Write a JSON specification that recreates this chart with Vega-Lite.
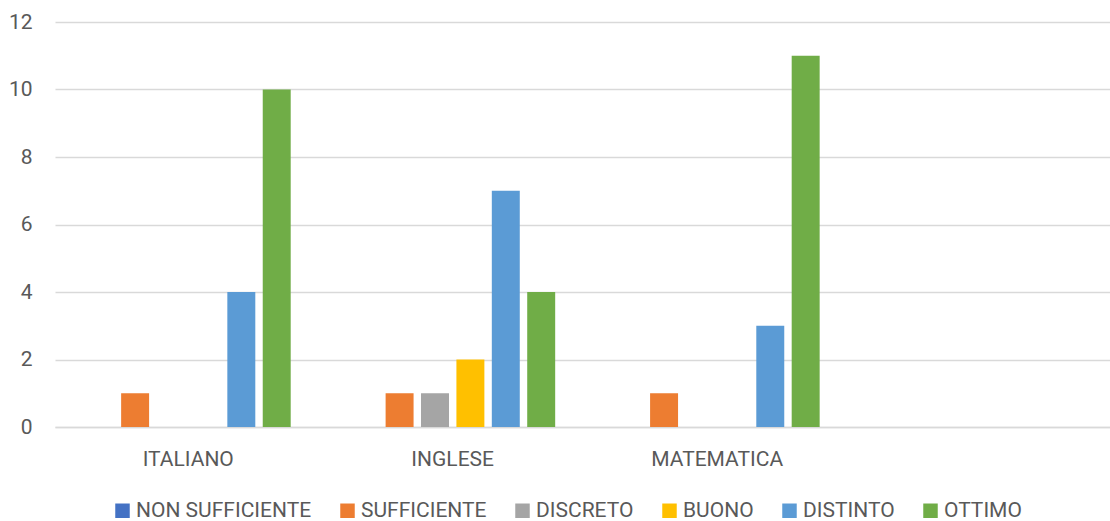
{
  "$schema": "https://vega.github.io/schema/vega-lite/v6.json",
  "autosize": "none",
  "width": 1055,
  "height": 405,
  "padding": {"left": 55, "top": 22, "right": 0, "bottom": 94},
  "background": "#ffffff",
  "config": {
    "view": {"stroke": null},
    "font": "Roboto"
  },
  "data": {
    "values": [
      {"materia": "ITALIANO", "giudizio": "NON SUFFICIENTE", "n": 0},
      {"materia": "ITALIANO", "giudizio": "SUFFICIENTE", "n": 1},
      {"materia": "ITALIANO", "giudizio": "DISCRETO", "n": 0},
      {"materia": "ITALIANO", "giudizio": "BUONO", "n": 0},
      {"materia": "ITALIANO", "giudizio": "DISTINTO", "n": 4},
      {"materia": "ITALIANO", "giudizio": "OTTIMO", "n": 10},
      {"materia": "INGLESE", "giudizio": "NON SUFFICIENTE", "n": 0},
      {"materia": "INGLESE", "giudizio": "SUFFICIENTE", "n": 1},
      {"materia": "INGLESE", "giudizio": "DISCRETO", "n": 1},
      {"materia": "INGLESE", "giudizio": "BUONO", "n": 2},
      {"materia": "INGLESE", "giudizio": "DISTINTO", "n": 7},
      {"materia": "INGLESE", "giudizio": "OTTIMO", "n": 4},
      {"materia": "MATEMATICA", "giudizio": "NON SUFFICIENTE", "n": 0},
      {"materia": "MATEMATICA", "giudizio": "SUFFICIENTE", "n": 1},
      {"materia": "MATEMATICA", "giudizio": "DISCRETO", "n": 0},
      {"materia": "MATEMATICA", "giudizio": "BUONO", "n": 0},
      {"materia": "MATEMATICA", "giudizio": "DISTINTO", "n": 3},
      {"materia": "MATEMATICA", "giudizio": "OTTIMO", "n": 11}
    ]
  },
  "mark": {"type": "bar"},
  "encoding": {
    "x": {
      "field": "materia",
      "type": "nominal",
      "sort": null,
      "scale": {
        "domain": ["ITALIANO", "INGLESE", "MATEMATICA", " "],
        "paddingInner": 0.225,
        "paddingOuter": 0.107,
        "align": 0.543
      },
      "axis": {
        "title": null,
        "labelAngle": 0,
        "labelFont": "Roboto",
        "labelFontSize": 21,
        "labelColor": "#595959",
        "labelPadding": 21,
        "ticks": false,
        "tickSize": 0,
        "domain": true,
        "domainColor": "#D9D9D9",
        "domainWidth": 1.5,
        "grid": false
      }
    },
    "xOffset": {
      "field": "giudizio",
      "type": "nominal",
      "scale": {
        "domain": ["NON SUFFICIENTE", "SUFFICIENTE", "DISCRETO", "BUONO", "DISTINTO", "OTTIMO"],
        "paddingInner": 0.21,
        "paddingOuter": 0
      }
    },
    "y": {
      "field": "n",
      "type": "quantitative",
      "scale": {"domain": [0, 12], "nice": false},
      "axis": {
        "title": null,
        "values": [0, 2, 4, 6, 8, 10, 12],
        "labelFont": "Roboto",
        "labelFontSize": 21,
        "labelColor": "#595959",
        "labelPadding": 23,
        "ticks": false,
        "tickSize": 0,
        "domain": false,
        "grid": true,
        "gridColor": "#D9D9D9",
        "gridWidth": 1.5
      }
    },
    "color": {
      "field": "giudizio",
      "type": "nominal",
      "scale": {
        "domain": ["NON SUFFICIENTE", "SUFFICIENTE", "DISCRETO", "BUONO", "DISTINTO", "OTTIMO"],
        "range": ["#4472C4", "#ED7D31", "#A5A5A5", "#FFC000", "#5B9BD5", "#70AD47"]
      },
      "legend": {
        "title": null,
        "orient": "none",
        "direction": "horizontal",
        "legendX": 57,
        "legendY": 478,
        "symbolType": "square",
        "symbolSize": 210,
        "symbolStrokeWidth": 0,
        "symbolOpacity": 1,
        "labelFont": "Roboto",
        "labelFontSize": 21,
        "labelColor": "#595959",
        "labelOffset": 3,
        "columnPadding": 25,
        "labelLimit": 400
      }
    }
  }
}
